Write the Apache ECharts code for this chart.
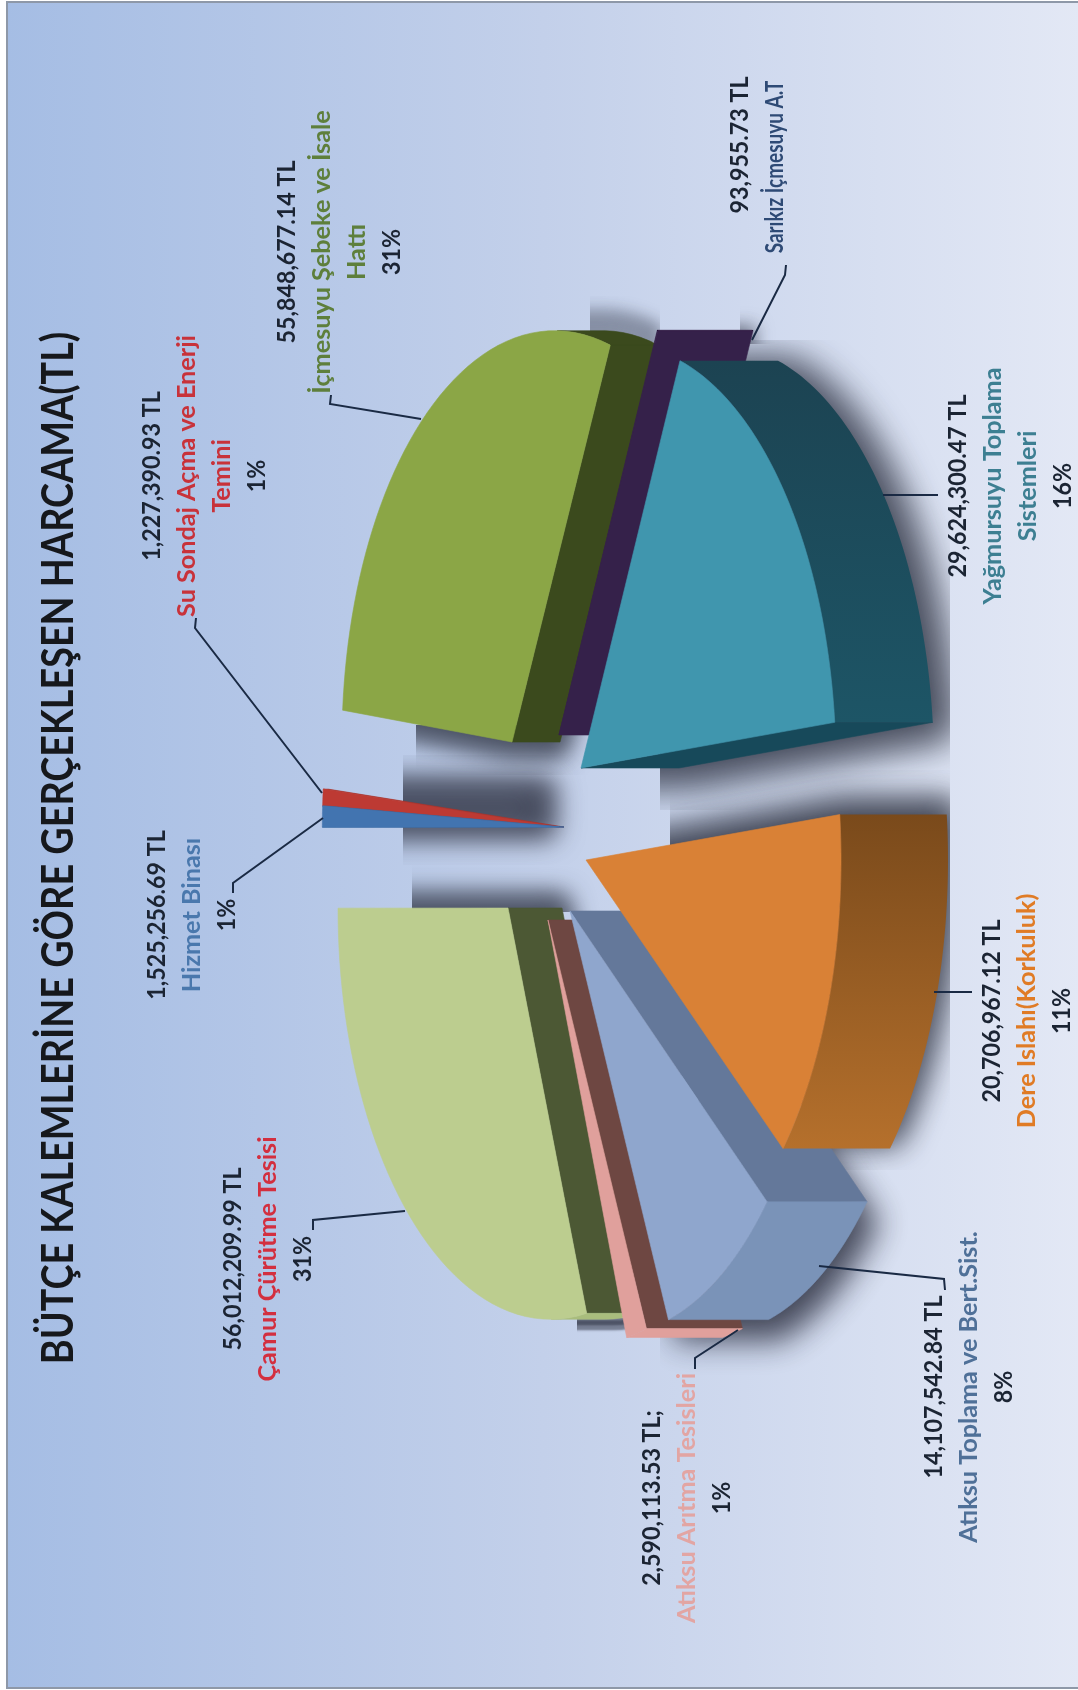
<!DOCTYPE html>
<html><head><meta charset="utf-8">
<style>html,body{margin:0;padding:0;background:#fff}#c{width:1078px;height:1690px}</style>
<script src="https://cdn.jsdelivr.net/npm/echarts@6/dist/echarts.min.js"></script>
</head><body><div id="c"></div>
<script>
// ---- data ----
const chartTitle = 'BÜTÇE KALEMLERİNE GÖRE GERÇEKLEŞEN HARCAMA(TL)';
const categories = ['Su Sondaj Açma ve Enerji\nTemini','İçmesuyu Şebeke ve İsale\nHattı','Sarıkız İçmesuyu A.T','Yağmursuyu Toplama\nSistemleri','Dere Islahı(Korkuluk)','Atıksu Toplama ve Bert.Sist.','Atıksu Arıtma Tesisleri','Çamur Çürütme Tesisi','Hizmet Binası'];
const values = [1227390.93,55848677.14,93955.73,29624300.47,20706967.12,14107542.84,2590113.53,56012209.99,1525256.69];
const valueLabels = ['1,227,390.93 TL','55,848,677.14 TL','93,955.73 TL','29,624,300.47 TL','20,706,967.12 TL','14,107,542.84 TL','2,590,113.53 TL;','56,012,209.99 TL','1,525,256.69 TL'];
const percentLabels = ['1%','31%','','16%','11%','8%','1%','31%','1%'];

// ---- look and layout ----
const total = values.reduce((a,b)=>a+b,0);
let run = 0; const cum = values.map(v=>{const s=run; run+=v; return [s,run];});
const K = 0.2;                     // perspective of the tilted pie
const slices = [ // apex, radii, thickness, colours  (same order as categories)
 {ax:559,ay:827,a:284,b:480,d:5, top:'#bd3a33',cut:'#a8342e',wall:'#a8342e'},
 {ax:512,ay:742,a:204,b:403,d:48,top:'#8ba646',cut:'#3b4a1d',wall:'#3b4a1d'},
 {ax:559,ay:735,a:204,b:411,d:95,top:'#35214a',cut:'#35214a',wall:'#35214a'},
 {ax:581,ay:768,a:204,b:414,d:98,top:'#4096ae',cut:'#17495a',wall:['#1c4352','#1d5566']},
 {ax:586,ay:860,a:204,b:412,d:107,top:'#d98136',cut:'#7a4a1b',wall:['#7a4a1b','#b5702c']},
 {ax:570,ay:911,a:204,b:415,d:100,top:'#8fa6cd',cut:'#64789a',wall:'#7a93b8'},
 {ax:548,ay:920,a:204,b:415,d:96,top:'#e0a09c',cut:'#6e4742',wall:'#e0a09c'},
 {ax:508,ay:908,a:204,b:403,d:54,top:'#bccd8f',cut:'#4c5834',wall:'#a9bd7d'},
 {ax:559,ay:827,a:284,b:480,d:5, top:'#4274b0',cut:'#3a669c',wall:'#3a669c'}
];
const drawOrder = [0,8,1,7,2,6,5,4,3];
const shadowStyle = [ // slice, clip x,y,w,h, blur, grow, offset x,y, strength, box
 {i:0,clip:[403,755,200,110],blur:24,grow:30,ox:-20,oy:0,alpha:0.62,box:true},
 {i:1,clip:[416,725,175,50],blur:24,grow:14,ox:0,oy:8,alpha:0.8},
 {i:1,clip:[590,296,70,46],blur:16,grow:8,ox:0,oy:-16,alpha:0.38},
 {i:7,clip:[412,862,190,50],blur:24,grow:12,ox:0,oy:-8,alpha:0.8},
 {i:7,clip:[577,1318,60,24],blur:2,grow:10,ox:8,oy:6,alpha:0.5},
 {i:2,clip:[740,296,60,48],blur:18,grow:6,ox:0,oy:0,alpha:0.6},
 {i:3,clip:[660,340,290,470],blur:36,grow:14,ox:12,oy:8,alpha:0.9},
 {i:4,clip:[670,770,280,400],blur:30,grow:10,ox:4,oy:-10,alpha:0.92},
 {i:5,clip:[660,1100,260,280],blur:30,grow:2,ox:10,oy:20,alpha:0.82}
];
const leaderLines = [
 [[322,793],[195,628],[196,618]],
 [[421,419],[330,404],[331,395]],
 [[752,340],[785,275],[786,265]],
 [[883,495],[938,495]],
 [[934,992],[972,992]],
 [[819,1266],[944,1279],[945,1290]],
 [[738,1330],[695,1358],[695,1369]],
 [[405,1211],[313,1220],[313,1230]],
 [[323,818],[233,883],[233,893]]
];
const labelPlace = [ // x of first line, y of block centre
 [152,476],[287,252],[740,167],[958,486],[992,1011],[934,1387],[652,1498],[233,1259],[157,915]
];
const valueLabelNudge = [0,0,-22,0,0,0,0,0,0];
const nameStretch = [1.05,1.05,0.79,1.05,1.05,1.05,1.05,1.05,1.05];
const LINE = 35;
const FONT = 'Lato, "Noto Sans", sans-serif';

function poly(points,fill,extra){
  return Object.assign({type:'polygon',shape:{points},style:{fill,stroke:typeof fill==='string'?fill:null,lineWidth:0.6}},extra||{});
}
function geometry(api,s,range){
  const c0=api.coord([0,0]), c1=api.coord([1,0]);
  const R=Math.hypot(c1[0]-c0[0],c1[1]-c0[1]);
  const pr=(r,val)=>{const p=api.coord([r,val]);const u=(p[1]-c0[1])/R,v=(p[0]-c0[0])/R,w=1-K*u;return [s.ax+s.a*u/w,s.ay-s.b*v/w];};
  const rim=[];const n=48;
  for(let j=0;j<=n;j++) rim.push(pr(1,range[0]+(range[1]-range[0])*j/n));
  return {apex:pr(0,range[0]),rim};
}
function shift(p,d){return [p[0]+d,p[1]];}
function hull(pts){
  const a=pts.slice().sort((p,q)=>p[0]-q[0]||p[1]-q[1]);
  const cr=(o,p,q)=>(p[0]-o[0])*(q[1]-o[1])-(p[1]-o[1])*(q[0]-o[0]);
  const lo=[],up=[];
  for(const p of a){while(lo.length>1&&cr(lo[lo.length-2],lo[lo.length-1],p)<=0)lo.pop();lo.push(p);}
  for(const p of a.reverse()){while(up.length>1&&cr(up[up.length-2],up[up.length-1],p)<=0)up.pop();up.push(p);}
  return lo.slice(0,-1).concat(up.slice(0,-1));
}
function renderSlice(params,api){
  const i=api.value(2), s=slices[i];
  const g=geometry(api,s,[api.value(0),api.value(1)]);
  const top=[g.apex].concat(g.rim);
  let area=0; top.forEach((p,j)=>{const q=top[(j+1)%top.length];area+=p[0]*q[1]-q[0]*p[1];});
  const sign=area>=0?1:-1;
  const seen=(p,q)=>(q[1]-p[1])*sign>0;
  const kids=[];
  const quad=(p,q)=>poly([p,q,shift(q,s.d),shift(p,s.d)],s.cut);
  const lastRim=g.rim[g.rim.length-1];
  if(seen(g.apex,g.rim[0])) kids.push(quad(g.apex,g.rim[0]));
  if(seen(lastRim,g.apex)) kids.push(quad(lastRim,g.apex));
  const vis=[];
  for(let j=0;j<g.rim.length-1;j++){
    if(seen(g.rim[j],g.rim[j+1])){ if(!vis.length) vis.push(g.rim[j]); vis.push(g.rim[j+1]); }
  }
  if(vis.length>1){
    const pts=vis.concat(vis.slice().reverse().map(p=>shift(p,s.d)));
    const fill=Array.isArray(s.wall)?new echarts.graphic.LinearGradient(0,0,0,1,[{offset:0,color:s.wall[0]},{offset:1,color:s.wall[1]}]):s.wall;
    kids.push(poly(pts,fill));
  }
  kids.push(poly(top,s.top));
  return {type:'group',children:kids};
}
function renderShadow(params,api){
  const sp=shadowStyle[api.value(2)], s=slices[sp.i];
  const g=geometry(api,s,cum[sp.i]);
  const top=[g.apex].concat(g.rim);
  let h=hull(top.concat(top.map(p=>shift(p,s.d))));
  if(sp.box){
    const xs=h.map(p=>p[0]),ys=h.map(p=>p[1]);
    const x0=Math.min(...xs),x1=Math.max(...xs),y0=Math.min(...ys),y1=Math.max(...ys);
    h=[[x0,y0],[x1,y0],[x1,y1],[x0,y1]];
  }
  const far=3000;
  return {type:'polygon',shape:{points:h.map(p=>[p[0]-far,p[1]])},
    clipPath:{type:'rect',shape:{x:sp.clip[0],y:sp.clip[1],width:sp.clip[2],height:sp.clip[3]}},
    style:{fill:'#000',stroke:sp.grow?'#000':null,lineWidth:sp.grow,lineJoin:'round',
      shadowColor:'rgba(38,42,58,'+sp.alpha+')',shadowBlur:sp.blur,shadowOffsetX:far+sp.ox,shadowOffsetY:sp.oy}};
}
// ---- text and leaders ----
function upText(text,x,y,size,fill,stretch){
  return {type:'text',x,y,rotation:Math.PI/2,scaleX:stretch,z:50,silent:true,
    style:{text,fill,font:'bold '+size+'px '+FONT,align:'center',verticalAlign:'middle'}};
}
const nameColors=['#c8323a','#5e7f3c','#2e4a75','#3d7f92','#e07b25','#4f7098','#e2a5a3','#d32f3f','#4a78ad'];
const graphics=[{type:'rect',z:-10,silent:true,shape:{x:7,y:2,width:1072,height:1686},
  style:{stroke:'#8e98a8',lineWidth:2,fill:new echarts.graphic.LinearGradient(0,0,1,0,[
    {offset:0,color:'#a5bde4'},{offset:0.5,color:'#c3d0ea'},{offset:1,color:'#e3e8f5'}])}}];
graphics.push(upText(chartTitle,59,848,44,'#16181c',0.858));
categories.forEach((c,i)=>{
  const names=c.split('\n');
  graphics.push(upText(valueLabels[i],labelPlace[i][0],labelPlace[i][1]+valueLabelNudge[i],25,'#1b2433',0.93));
  names.forEach((t,j)=>graphics.push(upText(t,labelPlace[i][0]+(j+1)*LINE,labelPlace[i][1],24,nameColors[i],nameStretch[i])));
  if(percentLabels[i]) graphics.push(upText(percentLabels[i],labelPlace[i][0]+(names.length+1)*LINE,labelPlace[i][1],25,'#1b2433',0.93));
});
leaderLines.forEach(l=>graphics.push({type:'polyline',z:40,silent:true,shape:{points:l},style:{stroke:'#1a2a44',lineWidth:2,fill:null}}));

const chart=echarts.init(document.getElementById('c'),null,{renderer:'canvas'});
chart.setOption({
  animation:false,
  polar:{center:['50%','50%'],radius:300},
  angleAxis:{type:'value',min:0,max:total,startAngle:87,show:false},
  radiusAxis:{type:'value',min:0,max:1,show:false},
  graphic:{elements:graphics},
  series:[
   {type:'custom',coordinateSystem:'polar',z:1,silent:true,renderItem:renderShadow,
    data:shadowStyle.map((s,j)=>[cum[s.i][0],cum[s.i][1],j])},
   {type:'custom',coordinateSystem:'polar',z:2,silent:true,renderItem:renderSlice,
    data:drawOrder.map(i=>({name:categories[i],value:[cum[i][0],cum[i][1],i]}))}
  ]
});
</script></body></html>
